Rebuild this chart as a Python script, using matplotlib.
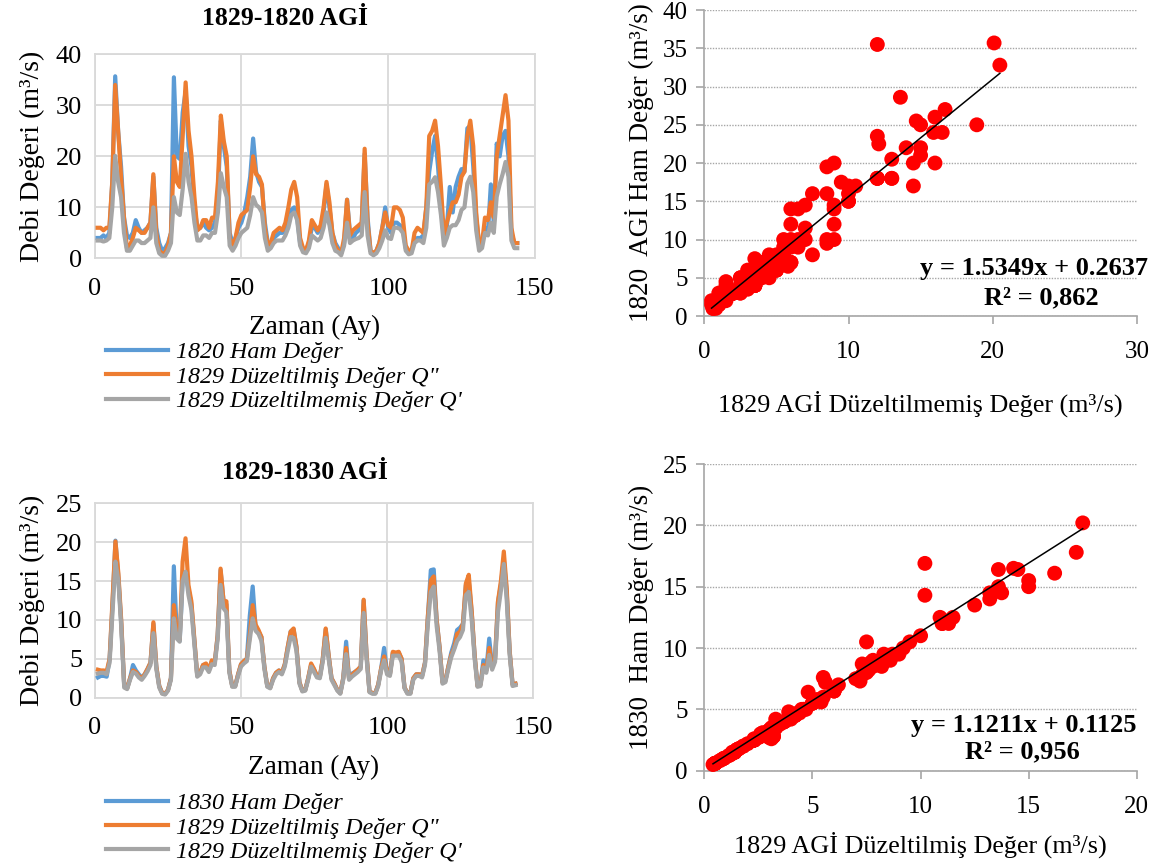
import matplotlib
matplotlib.use("Agg")
import matplotlib.pyplot as plt
import numpy as np

plt.rcParams["font.family"] = ["Liberation Serif", "DejaVu Serif"]

MONTHS = list(range(1, 145))

# 1829-1820 AGİ
HAM_1820 = [
    4, 4, 4.5, 4, 5, 15, 35.7, 25, 18, 8, 4.5, 4,
    5, 7.5, 6, 5, 5.5, 6, 7, 16, 6, 3, 1.5, 2,
    3, 5, 35.5, 20, 19.5, 28.6, 32.8, 22, 18, 10, 6, 6,
    7, 6, 5.5, 6, 7, 12, 27, 22, 18, 5, 3, 4,
    6, 7, 9, 12, 16, 23.5, 17, 15, 14, 7, 3, 3,
    4, 4.5, 5, 5, 6, 7, 9.5, 10, 8, 3, 2, 1.5,
    3, 6, 6, 5, 6, 9, 14.5, 10, 5, 3, 2, 1,
    3, 11.5, 5, 4, 5, 5.5, 7, 20.5, 8, 1.5, 1, 1.5,
    3, 6, 10, 6, 5, 7, 7, 6.5, 6, 2, 1, 1.5,
    3.5, 4, 4, 4.5, 10, 17, 21, 24, 18, 10, 4, 6,
    14, 9, 14, 16, 17.5, 17, 25.5, 26, 18, 8, 3, 3,
    6, 5, 14.5, 7, 22.5, 20, 24, 25, 20, 5, 3, 3,
]
DUZ_1829_A = [
    6, 6, 5.5, 6, 6, 15, 34, 25, 16, 8, 2, 2.5,
    4, 6, 5.5, 5, 5, 6, 7, 16.5, 5, 1.5, 1, 1,
    2.5, 5, 20, 15, 14, 24, 34.5, 25, 20, 12, 5.5, 6,
    7.5, 7.5, 6, 8, 8, 15, 28, 23, 20, 4, 2.5, 4,
    7, 8.5, 9, 9.5, 14, 20, 16.5, 16, 14.5, 6, 2.5, 3,
    5, 5.5, 6, 5.5, 7, 10, 13.5, 15, 12, 4, 2, 1.5,
    3.5, 7.5, 6.5, 5.5, 6.5, 10, 15, 11, 5, 2.5, 1.5, 1,
    4, 11.5, 4.5, 5.5, 6, 6.5, 7, 21.5, 7, 1.5, 1, 1.5,
    3, 6, 9, 6.5, 6, 10, 10, 9.5, 8, 2.5, 1.5, 1.5,
    5, 6, 5.5, 5, 10, 24, 25, 27, 22, 14, 4.5, 7,
    9, 11, 11, 12.5, 16, 17, 24, 27, 22, 9, 2.5, 3,
    8, 7.5, 11, 8, 20, 24, 28, 32, 27, 6, 3, 3,
]
DUZSIZ_1829_A = [
    3.5, 3.5, 3.3, 3.5, 4, 10, 20.1, 15, 12, 5, 1.5, 1.5,
    2.5, 3.5, 3.5, 3, 3, 3.5, 4, 10, 3, 1, 0.5, 0.5,
    1.5, 3, 12, 9, 8.5, 13.6, 20.5, 15, 12, 7, 3.5, 3.5,
    4.5, 4.5, 4, 5, 5, 9, 16.7, 14, 12, 2.5, 1.5, 2.5,
    4, 5, 5.5, 6, 8.5, 12, 10.5, 10, 9, 4, 1.5, 2,
    3, 3.5, 3.5, 3.5, 4.5, 6, 8.5, 9, 7.5, 2.5, 1.2, 1,
    2, 4.5, 4, 3.5, 4, 6, 9, 6.5, 3, 1.5, 1.2, 0.6,
    2.5, 7, 3, 3.5, 3.8, 4, 4.5, 13, 4.5, 1, 0.6, 1,
    2, 3.5, 5.5, 4, 3.8, 6, 6, 5.8, 5, 1.5, 0.8, 1,
    3, 3.5, 3.5, 3, 6, 14.5, 15, 15.9, 13, 8.5, 2.5, 4,
    6, 6.5, 6.5, 7.5, 9.5, 10, 14.7, 16, 13, 5.5, 1.5, 2,
    5, 4.5, 7, 5, 12.1, 14.5, 16.5, 18.9, 16, 3.5, 2, 2,
]

# 1829-1830 AGİ
HAM_1830 = [
    2.6, 2.8, 2.8, 2.7, 5, 12, 20.2, 15.5, 9.5, 1.5, 1.2, 2.5,
    4.2, 3.5, 3, 2.6, 3, 3.7, 4.5, 9.5, 4, 1.5, 0.6, 0.5,
    1, 2.5, 16.9, 8.2, 7.3, 15, 16.1, 14, 12, 7.5, 2.9, 3.2,
    4.2, 4.3, 3.5, 4.7, 4.5, 8, 16.4, 12.5, 12, 3.5, 1.5, 1.5,
    3, 4.3, 4.7, 5, 10.5, 14.3, 9, 8.5, 7.8, 4, 1.5, 1.3,
    2.5, 3.2, 3.5, 3.2, 4.3, 6.5, 8.5, 8.8, 6.5, 2, 0.9, 1,
    2.5, 4.2, 3.6, 2.8, 2.7, 5, 8.8, 5.5, 2.5, 1.8, 1, 0.6,
    2.5, 7.2, 2.5, 3.1, 3.3, 3.6, 4, 12.5, 5.5, 0.8, 0.6, 0.6,
    1.7, 3.8, 6.4, 3.3, 3, 5.8, 5.6, 5.8, 5, 1.3, 0.6, 0.6,
    2.5, 3, 3, 2.8, 4.5, 10.5, 16.4, 16.5, 10, 6.5, 2, 2.2,
    4, 5.8, 7, 8.7, 9, 9.5, 14.5, 15, 11, 5.5, 1.5, 1.7,
    4.8, 3.5, 7.6, 3.9, 5, 12.3, 14.5, 17.8, 13.5, 6, 1.7, 1.8,
]
DUZ_1829_B = [
    3.6, 3.5, 3.5, 3.4, 5, 12.5, 20.1, 16, 9.8, 1.6, 1.2, 2.5,
    3.5, 3.3, 2.8, 2.5, 3, 3.7, 4.5, 9.7, 4, 1.5, 0.6, 0.5,
    1, 2.5, 11.9, 8.5, 7.5, 17.5, 20.5, 14.5, 12.4, 7.6, 2.9, 3.2,
    4.2, 4.4, 3.5, 4.8, 4.5, 8, 16.6, 12.5, 12.4, 3.5, 1.5, 1.5,
    3, 4.3, 4.7, 5, 8, 11.9, 9.4, 8.7, 7.8, 4, 1.5, 1.3,
    2.5, 3.2, 3.5, 3.2, 4.3, 6.5, 8.5, 8.9, 6.5, 2, 0.9, 1,
    2.5, 4.4, 3.7, 2.8, 2.7, 5, 8.9, 5.5, 2.5, 1.8, 1, 0.6,
    2.5, 6.4, 2.5, 2.9, 3.3, 3.6, 4, 12.6, 5.5, 0.8, 0.6, 0.6,
    1.7, 3.8, 5.3, 3.3, 3, 5.9, 5.8, 5.9, 5, 1.3, 0.6, 0.6,
    2.5, 3, 3, 2.8, 4.5, 10.5, 15.1, 15.6, 10, 6.5, 2, 2.2,
    4, 5.5, 6.4, 8.2, 8.5, 9.5, 14.7, 15.8, 11.1, 5.5, 1.5, 1.7,
    4.2, 3.5, 6.4, 3.9, 5, 12.4, 15, 18.8, 14, 6, 1.7, 1.8,
]
DUZSIZ_1829_B = [
    3.1, 3.2, 3.2, 3, 4.5, 11, 17.5, 15, 9, 1.3, 1.1, 2.3,
    3.3, 3.1, 2.6, 2.3, 2.8, 3.4, 4.2, 8.3, 3.7, 1.3, 0.5, 0.4,
    0.9, 2.3, 10.2, 7.6, 7.2, 15, 16.2, 13.2, 11.3, 7, 2.7, 3,
    3.9, 3.9, 3.3, 4.3, 4.2, 7.5, 14.5, 11.5, 11, 3.2, 1.4, 1.4,
    2.8, 4, 4.4, 4.7, 7.5, 10.2, 8.6, 8.2, 7.3, 3.7, 1.4, 1.2,
    2.3, 3, 3.3, 3, 4, 6, 7.8, 7.7, 6, 1.8, 0.8, 0.9,
    2.3, 4, 3.3, 2.6, 2.5, 4.6, 7.7, 5, 2.3, 1.6, 0.9, 0.5,
    2.3, 5.6, 2.3, 2.7, 3, 3.3, 3.7, 10.9, 5, 0.7, 0.5, 0.5,
    1.5, 3.5, 4.8, 3, 2.8, 5.4, 5.4, 5.4, 4.6, 1.2, 0.5, 0.5,
    2.3, 2.8, 2.8, 2.6, 4.2, 9.5, 13.6, 14.3, 9.2, 6, 1.8, 2,
    3.7, 5.2, 6.2, 7.3, 7.8, 8.7, 13.2, 13.6, 10, 5, 1.4, 1.5,
    3.9, 3.2, 5.5, 3.6, 4.6, 11, 13.75, 17.2, 12.5, 5.5, 1.5, 1.6,
]

TREND_A = (1.5349, 0.2637)
TREND_B = (1.1211, 0.1125)

BLUE = "#5B9BD5"
ORANGE = "#ED7D31"
GRAY = "#A5A5A5"
GRID = "#D9D9D9"
AXIS_GRAY = "#A6A6A6"


def series_panel(ax, ham, duz, duzsiz, ymax, ystep):
    ax.plot(MONTHS, ham, color=BLUE, lw=3.0, solid_joinstyle="round", zorder=3)
    ax.plot(MONTHS, duz, color=ORANGE, lw=3.0, solid_joinstyle="round", zorder=4)
    ax.plot(MONTHS, duzsiz, color=GRAY, lw=3.0, solid_joinstyle="round", zorder=5)
    ax.set_xlim(0, 150)
    ax.set_ylim(0, ymax)
    ax.set_xticks([0, 50, 100, 150])
    ax.set_yticks(np.arange(0, ymax + 1, ystep))
    ax.grid(True, color=GRID, lw=1.3)
    ax.set_axisbelow(True)
    for sp in ax.spines.values():
        sp.set_color(GRID)
        sp.set_linewidth(1.3)
    ax.tick_params(length=0, labelsize=19, pad=9)
    ax.tick_params(axis="x", pad=14)
    ax.set_xlabel("Zaman (Ay)", fontsize=19.5, labelpad=11)
    ax.set_ylabel("Debi Değeri (m³/s)", fontsize=20, labelpad=8)


def scatter_panel(ax, xs, ys, trend, xmax, xstep, ymax, ystep):
    ax.scatter(xs, ys, s=115, color="#FF0000", edgecolors="none", zorder=3, clip_on=False)
    slope, icpt = trend
    xl = np.array([min(xs), max(xs)])
    ax.plot(xl, slope * xl + icpt, color="black", lw=1.1, zorder=4)
    ax.set_xlim(0, xmax)
    ax.set_ylim(0, ymax)
    ax.set_xticks(np.arange(0, xmax + 1, xstep))
    ax.set_yticks(np.arange(0, ymax + 1, ystep))
    ax.yaxis.grid(True, color=AXIS_GRAY, lw=1.0, linestyle=(0, (1, 1)))
    ax.set_axisbelow(True)
    for side in ("top", "right"):
        ax.spines[side].set_visible(False)
    for side in ("left", "bottom"):
        ax.spines[side].set_color(AXIS_GRAY)
        ax.spines[side].set_linewidth(1.2)
    ax.tick_params(direction="out", length=6, width=1.2, color=AXIS_GRAY, labelsize=18, pad=6)
    ax.tick_params(axis="x", pad=12)


fig = plt.figure(figsize=(11.6, 8.67), dpi=100)

ax1 = fig.add_axes([0.0816, 0.702, 0.3795, 0.2353])
series_panel(ax1, HAM_1820, DUZ_1829_A, DUZSIZ_1829_A, 40, 10)
fig.text(0.246, 0.979, "1829-1820 AGİ", ha="center", va="center", fontsize=18.5, fontweight="bold")

ax3 = fig.add_axes([0.0819, 0.1953, 0.3776, 0.2242])
series_panel(ax3, HAM_1830, DUZ_1829_B, DUZSIZ_1829_B, 25, 5)
fig.text(0.263, 0.455, "1829-1830 AGİ", ha="center", va="center", fontsize=18.5, fontweight="bold")

labels_a = ["1820 Ham Değer", "1829 Düzeltilmiş Değer Q\"", "1829 Düzeltilmemiş Değer Q'"]
labels_b = ["1830 Ham Değer", "1829 Düzeltilmiş Değer Q\"", "1829 Düzeltilmemiş Değer Q'"]
for ax, labels, top in ((ax1, labels_a, 0.617), (ax3, labels_b, 0.097)):
    handles = ax.get_lines()[:3]
    fig.legend(handles, labels, loc="upper left", bbox_to_anchor=(0.083, top),
               frameon=False, prop={"style": "italic", "size": 17.3},
               handlelength=2.6, handletextpad=0.3, labelspacing=0.1, borderaxespad=0)

ax2 = fig.add_axes([0.6072, 0.6355, 0.3728, 0.3529])
scatter_panel(ax2, DUZSIZ_1829_A, HAM_1820, TREND_A, 30, 10, 40, 5)
ax2.set_xlabel("1829 AGİ Düzeltilmemiş Değer (m³/s)", fontsize=18.8, labelpad=20)
ax2.set_ylabel("1820  AGİ Ham Değer (m³/s)", fontsize=19.5, labelpad=6)
ax2.text(1.025, 0.155, "y = 1.5349x + 0.2637", transform=ax2.transAxes, ha="right",
         va="center", fontsize=19, fontweight="bold")
ax2.text(0.78, 0.058, "R² = 0,862", transform=ax2.transAxes, ha="center",
         va="center", fontsize=19, fontweight="bold")

ax4 = fig.add_axes([0.6072, 0.1111, 0.3728, 0.3537])
scatter_panel(ax4, DUZSIZ_1829_B, HAM_1830, TREND_B, 20, 5, 25, 5)
ax4.set_xlabel("1829 AGİ Düzeltilmiş Değer (m³/s)", fontsize=18.8, labelpad=10)
ax4.set_ylabel("1830  Ham Değer (m³/s)", fontsize=19.5, labelpad=6)
ax4.text(1.0, 0.148, "y = 1.1211x + 0.1125", transform=ax4.transAxes, ha="right",
         va="center", fontsize=19, fontweight="bold")
ax4.text(0.735, 0.062, "R² = 0,956", transform=ax4.transAxes, ha="center",
         va="center", fontsize=19, fontweight="bold")

fig.savefig("out.png", dpi=100, facecolor="white")
